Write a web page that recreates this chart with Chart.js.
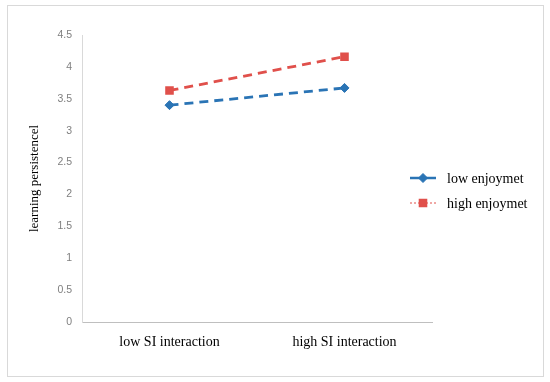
<!DOCTYPE html>
<html>
<head>
<meta charset="utf-8">
<script src="https://cdn.jsdelivr.net/npm/chart.js@4"></script>
<style>
  html, body { margin: 0; padding: 0; background: #fff; }
  #wrap { width: 550px; height: 382px; }
</style>
</head>
<body>
<div id="wrap"><canvas id="lineChart" width="550" height="382"></canvas></div>
<script>
var categories = ["low SI interaction", "high SI interaction"];
var seriesNames = ["low enjoymet", "high enjoymet"];
var lowEnjoyment = [3.40, 3.67];
var highEnjoyment = [3.63, 4.16];
var yTicks = [0, 0.5, 1, 1.5, 2, 2.5, 3, 3.5, 4, 4.5];

var blue = "#2a74b5";
var red = "#e0504b";
var serif = "'Liberation Serif', 'Times New Roman', serif";

// frame round the whole picture
var framePlugin = {
  id: "frame",
  beforeDraw: function(chart) {
    var ctx = chart.ctx;
    ctx.save();
    ctx.fillStyle = "#fff";
    ctx.fillRect(0, 0, chart.width, chart.height);
    ctx.strokeStyle = "#d9d9d9";
    ctx.lineWidth = 1;
    ctx.strokeRect(7.5, 5.5, 536, 371);
    ctx.restore();
  }
};

// legend drawn by hand: solid line for the first, dotted for the second
var legendPlugin = {
  id: "sideLegend",
  afterDraw: function(chart) {
    var ctx = chart.ctx;
    var x0 = 410, y0 = 178, gap = 25;
    chart.data.datasets.forEach(function(ds, i) {
      var y = y0 + i * gap;
      ctx.save();
      ctx.strokeStyle = ds.borderColor;
      if (i === 0) {
        ctx.lineWidth = 2.5;
        ctx.setLineDash([]);
      } else {
        ctx.lineWidth = 1;
        ctx.setLineDash([2, 2]);
      }
      ctx.beginPath();
      ctx.moveTo(x0, y);
      ctx.lineTo(x0 + 26, y);
      ctx.stroke();
      ctx.setLineDash([]);
      ctx.fillStyle = ds.pointBackgroundColor;
      ctx.strokeStyle = ds.pointBorderColor;
      ctx.lineWidth = ds.pointBorderWidth;
      Chart.helpers.drawPoint(ctx, {
        pointStyle: ds.pointStyle,
        radius: ds.pointRadius,
        borderWidth: ds.pointBorderWidth,
        rotation: 0
      }, x0 + 13, y);
      ctx.fillStyle = "#000";
      ctx.font = "14px " + serif;
      ctx.textBaseline = "middle";
      ctx.fillText(ds.label, x0 + 37, y + 1);
      ctx.restore();
    });
  }
};

var ctx = document.getElementById("lineChart").getContext("2d");

var chart = new Chart(ctx, {
  type: "line",
  data: {
    labels: categories,
    datasets: [
      {
        label: seriesNames[0],
        data: lowEnjoyment,
        borderColor: blue,
        backgroundColor: blue,
        borderWidth: 2.8,
        borderDash: [9, 6],
        pointStyle: "rectRot",
        pointRadius: 4.5,
        pointBorderWidth: 1,
        pointBackgroundColor: blue,
        pointBorderColor: blue
      },
      {
        label: seriesNames[1],
        data: highEnjoyment,
        borderColor: red,
        backgroundColor: red,
        borderWidth: 2.8,
        borderDash: [9, 6],
        pointStyle: "rect",
        pointRadius: 5,
        pointBorderWidth: 1.5,
        pointBackgroundColor: red,
        pointBorderColor: red
      }
    ]
  },
  options: {
    responsive: false,
    animation: false,
    layout: { padding: { left: 27, top: 35, right: 118, bottom: 0 } },
    plugins: {
      legend: { display: false },
      tooltip: { enabled: false }
    },
    scales: {
      x: {
        offset: true,
        grid: { display: false },
        border: { display: true, color: "#bfbfbf", width: 1 },
        ticks: {
          color: "#000",
          font: { family: serif, size: 14 },
          padding: 4,
          maxRotation: 0
        },
        afterFit: function(scale) { scale.height = 60; }
      },
      y: {
        min: 0,
        max: 4.5,
        grid: { display: false, drawTicks: false },
        border: { display: true, color: "#d9d9d9", width: 1 },
        afterBuildTicks: function(scale) {
          scale.ticks = yTicks.map(function(v) { return { value: v }; });
        },
        ticks: {
          color: "#7f7f7f",
          font: { family: "'Liberation Sans', Arial, sans-serif", size: 10.5 },
          padding: 10,
          callback: function(v) { return String(v); }
        },
        title: {
          display: true,
          text: "learning persistencel",
          color: "#000",
          font: { family: serif, size: 13 },
          padding: { top: 0, bottom: 0 }
        },
        afterFit: function(scale) { scale.width = 55; }
      }
    }
  },
  plugins: [framePlugin, legendPlugin]
});
</script>
</body>
</html>
